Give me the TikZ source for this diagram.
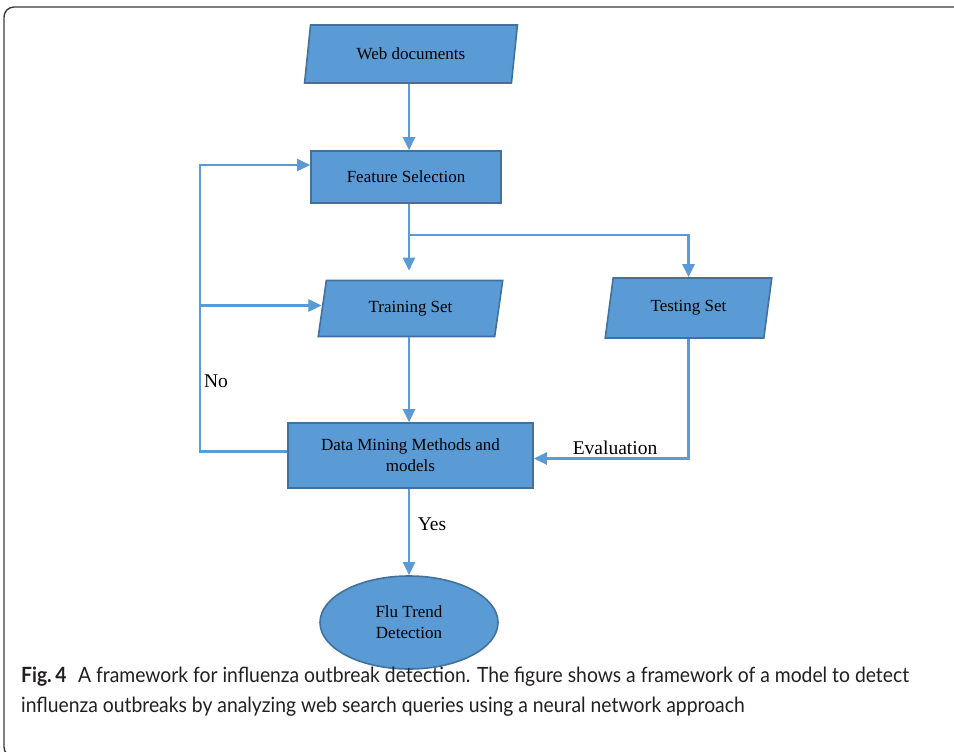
\documentclass[tikz,border=0pt]{standalone}
\usepackage{fontspec}
\setmainfont{Liberation Serif}
\newfontfamily\capfont[FakeStretch=0.92]{Lato}
\usetikzlibrary{arrows.meta,shapes.geometric}
\definecolor{boxfill}{HTML}{5B9BD5}
\definecolor{boxedge}{HTML}{41719C}
\definecolor{linec}{HTML}{5B9BD5}
\definecolor{framec}{HTML}{3A3A3A}
\definecolor{capc}{HTML}{231F20}
\tikzset{
  shapebase/.style={draw=boxedge, fill=boxfill, line width=1.6pt, inner sep=0pt,
    font=\fontsize{17}{21}\selectfont, text=black, align=center},
  procbox/.style={shapebase, rectangle},
  parabox/.style={shapebase, trapezium, trapezium left angle=75, trapezium right angle=105,
    trapezium stretches=true},
  endbox/.style={shapebase, ellipse},
  arr/.style={draw=linec, line width=2.6pt, -{Triangle[length=13pt,width=12pt]}},
  lbl/.style={font=\fontsize{19.5}{22}\selectfont, text=black, inner sep=0pt},
  caplbl/.style={anchor=base west, inner sep=0pt, text=capc, font=\capfont\fontsize{21}{30}\selectfont},
  framebox/.style={draw=framec, line width=1.4pt, rounded corners=10pt},
}
\begin{document}
\begin{tikzpicture}[x=1pt,y=-1pt]
\useasboundingbox (0,0) rectangle (954,752);
\draw[framebox] (975,7) -- (4,7) -- (4,757) -- (975,757);

\node[parabox, minimum width=213pt, minimum height=58pt] (wd) at (411,54) {Web documents};
\node[procbox, minimum width=190pt, minimum height=52pt] (fs) at (406,177) {Feature Selection};
\node[parabox, minimum width=186pt, minimum height=56pt] (tr) at (410.5,308.5) {Training Set};
\node[parabox, minimum width=167pt, minimum height=60pt] (te) at (688.5,308) {Testing Set};
\node[procbox, minimum width=245pt, minimum height=65pt] (dm) at (410.5,455.5) {Data Mining Methods and\\models};
\node[endbox, minimum width=178pt, minimum height=93pt] (ft) at (409,622.5) {Flu Trend\\Detection};

\coordinate (cx) at (409,0);
\coordinate (lx) at (200,0);
\coordinate (jn) at (409,235);

\draw[arr] (cx |- wd.south) -- (cx |- fs.north);
\draw[arr, shorten >=9pt] (cx |- fs.south) -- (cx |- tr.north);
\draw[arr] (jn) -| (te.north);
\draw[arr] ([yshift=4pt]dm.west) -| ([yshift=12pt]lx |- fs.west) -- ([yshift=12pt]fs.west);
\draw[arr] ([yshift=3pt]lx |- tr.west) -- ([yshift=3pt]tr.west);
\draw[arr] (cx |- tr.south) -- (cx |- dm.north);
\draw[arr] (te.south) |- ([yshift=-3pt]dm.east);
\draw[arr] (cx |- dm.south) -- (cx |- ft.north);

\node[lbl] (no) at (216,381) {No};
\node[lbl] (ev) at (615,448) {Evaluation};
\node[lbl] (ys) at (432,524) {Yes};

\node[caplbl] (cap1) at (21,682)
  {\textbf{Fig.\,4}\hspace{0.55em}A framework for influenza outbreak detection. The figure shows a framework of a model to detect};
\node[caplbl] (cap2) at (21,712)
  {influenza outbreaks by analyzing web search queries using a neural network approach};
\end{tikzpicture}
\end{document}
